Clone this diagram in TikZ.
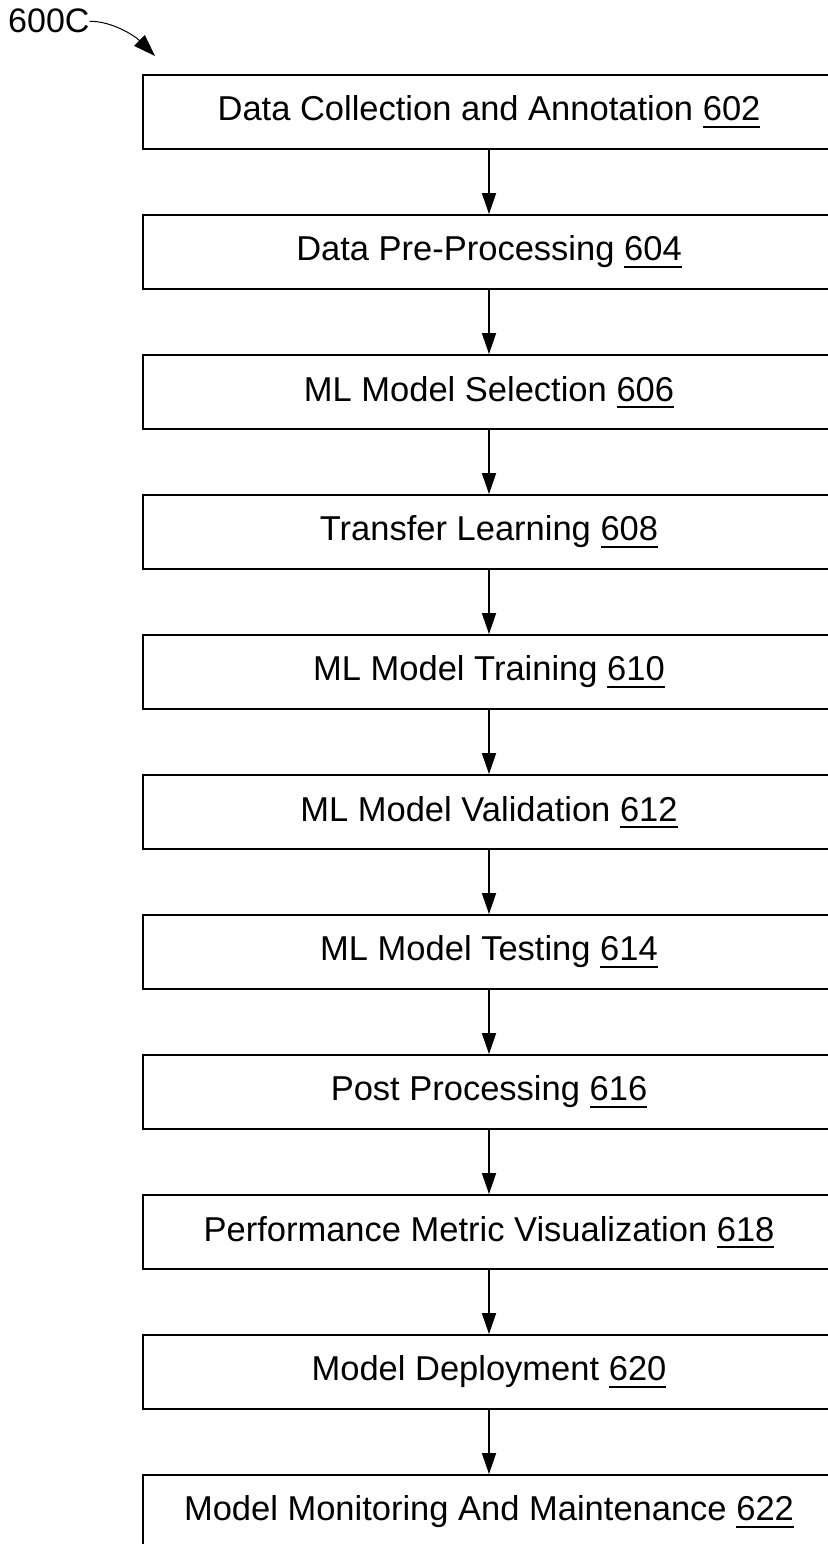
\documentclass[tikz,border=0pt]{standalone}
\usepackage{fontspec}
\setmainfont{Liberation Sans}
\usetikzlibrary{arrows.meta}
% underlined reference numeral
\newcommand\numul[1]{\setbox0\hbox{#1}\rlap{\rule[-7pt]{\wd0}{1.8pt}}\box0}
\tikzset{
  stepbox/.style={draw, line width=1.8pt, minimum width=692pt, minimum height=74pt,
    inner sep=0pt, font=\fontsize{34.5}{40}\selectfont},
  flow/.style={line width=1.6pt, -{Triangle[length=21pt,width=14pt]}},
}
\begin{document}
\begin{tikzpicture}
\useasboundingbox (0pt,0pt) rectangle (827pt,-1544pt);
\fill[white] (0pt,0pt) rectangle (827pt,-1544pt);

\node[anchor=base west, font=\fontsize{34}{40}\selectfont, inner sep=0pt] (lbl) at (8pt,-33pt) {600C};
\coordinate (tip) at (155pt,-56pt);
\draw[line width=1pt, -{Triangle[length=22pt,width=15pt]}] (lbl.east) .. controls (112pt,-21pt) and (135pt,-36pt) .. (tip);

\node[stepbox] (b1)  at (489pt,-112pt)  {Data Collection and Annotation \numul{602}};
\node[stepbox] (b2)  at (489pt,-252pt)  {Data Pre-Processing \numul{604}};
\node[stepbox] (b3)  at (489pt,-392pt)  {ML Model Selection \numul{606}};
\node[stepbox] (b4)  at (489pt,-532pt)  {Transfer Learning \numul{608}};
\node[stepbox] (b5)  at (489pt,-672pt)  {ML Model Training \numul{610}};
\node[stepbox] (b6)  at (489pt,-812pt)  {ML Model Validation \numul{612}};
\node[stepbox] (b7)  at (489pt,-952pt)  {ML Model Testing \numul{614}};
\node[stepbox] (b8)  at (489pt,-1092pt) {Post Processing \numul{616}};
\node[stepbox] (b9)  at (489pt,-1232pt) {Performance Metric Visualization \numul{618}};
\node[stepbox] (b10) at (489pt,-1372pt) {Model Deployment \numul{620}};
\node[stepbox] (b11) at (489pt,-1512pt) {Model Monitoring And Maintenance \numul{622}};

\foreach \a/\b in {b1/b2,b2/b3,b3/b4,b4/b5,b5/b6,b6/b7,b7/b8,b8/b9,b9/b10,b10/b11}
  \draw[flow] (\a.south) -- (\b.north);
\end{tikzpicture}
\end{document}
